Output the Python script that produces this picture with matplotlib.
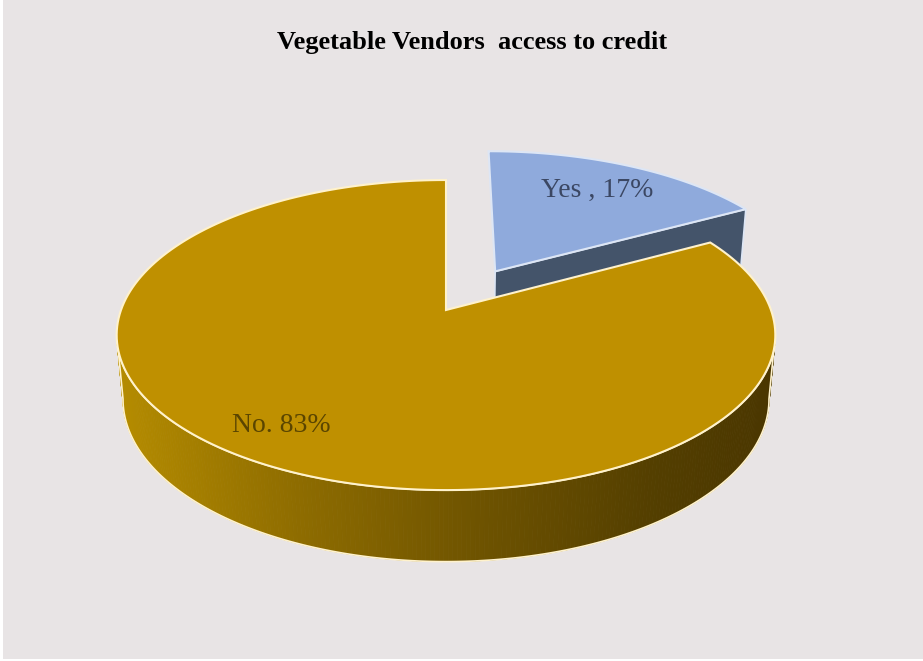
import numpy as np
import matplotlib
matplotlib.use('Agg')
import matplotlib.pyplot as plt
from matplotlib.patches import Polygon, Rectangle
from matplotlib.colors import to_rgb

# chart data
categories = ['Yes', 'No']
shares = [17, 83]
slice_labels = ['Yes , 17%', 'No. 83%']
label_pos = [(597, 190), (281, 425)]
top_colors = ['#8faadc', '#bf9000']
side_colors = ['#44546a', None]
edge_colors = ['#dde6f5', '#fff2cc']
explode = [0.31, 0.0]

# simple perspective camera for the 3d pie (pixel space)
CX, CY, R = 446, 310, 325
SIN_T = 0.4646
COS_T = np.sqrt(1 - SIN_T ** 2)
DIST = 5.48
THICK = 0.225


def project(x, z, h):
    v = h * COS_T - z * SIN_T
    d = z * COS_T + h * SIN_T
    s = DIST / (DIST - d)
    return CX + x * s * R, CY - v * s * R


def rim(ox, oz, h, angles):
    return [project(ox + np.cos(t), oz - np.sin(t), h) for t in angles]


# wall shading goes from light on the left to dark on the right
shade_x = [120, 300, 480, 650, 775]
shade_c = ['#b58c00', '#8e6c00', '#6e5300', '#543f00', '#4a3600']
shade_rgb = np.array([to_rgb(c) for c in shade_c])


def wall_color(px):
    return tuple(np.interp(px, shade_x, shade_rgb[:, i]) for i in range(3))


fig = plt.figure(figsize=(9.23, 6.61), dpi=100, facecolor='white')
ax = fig.add_axes([0, 0, 1, 1])
ax.set_xlim(0, 923)
ax.set_ylim(661, 0)
ax.axis('off')
ax.add_patch(Rectangle((3, 0), 920, 659, facecolor='#e8e4e5', edgecolor='none'))

# slice angles, clockwise from 12 o'clock
fracs = np.array(shares) / sum(shares)
bounds = 90 - 360 * np.concatenate([[0], np.cumsum(fracs)])

for i in range(len(categories)):
    a_start, a_end = np.radians(bounds[i]), np.radians(bounds[i + 1])
    mid = (a_start + a_end) / 2
    ox, oz = explode[i] * np.cos(mid), -explode[i] * np.sin(mid)
    arc = np.linspace(a_end, a_start, 200)

    if side_colors[i] is not None:
        # flat side facing the viewer along the trailing edge
        ends = [a_end]
        for t in ends:
            wall = [project(ox, oz, 0), project(ox + np.cos(t), oz - np.sin(t), 0),
                    project(ox + np.cos(t), oz - np.sin(t), -THICK), project(ox, oz, -THICK)]
            ax.add_patch(Polygon(wall, closed=True, facecolor=side_colors[i],
                                 edgecolor=edge_colors[i], lw=1.2, zorder=2 + 2 * i))
    else:
        # curved outer wall, front part only
        lo = max(a_end, np.radians(-171))
        hi = min(a_start, np.radians(-9))
        seg = np.linspace(lo, hi, 240)
        for t0, t1 in zip(seg[:-1], seg[1:]):
            quad = rim(ox, oz, 0, [t0, t1]) + rim(ox, oz, -THICK, [t1, t0])
            px = np.mean([p[0] for p in quad])
            c = wall_color(px)
            ax.add_patch(Polygon(quad, closed=True, facecolor=c, edgecolor=c,
                                 lw=0.6, zorder=2 + 2 * i))
        outline = rim(ox, oz, 0, seg) + rim(ox, oz, -THICK, seg[::-1])
        ax.add_patch(Polygon(outline, closed=True, facecolor='none',
                             edgecolor=edge_colors[i], lw=1.2, zorder=2 + 2 * i))

    top = [project(ox, oz, 0)] + rim(ox, oz, 0, arc)
    ax.add_patch(Polygon(top, closed=True, facecolor=top_colors[i],
                         edgecolor=edge_colors[i], lw=1.5, zorder=3 + 2 * i))

text_colors = ['#3b4763', '#5a4500']
for i, lab in enumerate(slice_labels):
    ax.text(label_pos[i][0], label_pos[i][1], lab, ha='center', va='center',
            fontsize=20, family='Liberation Serif', color=text_colors[i], zorder=10)

ax.text(472, 43, 'Vegetable Vendors  access to credit', ha='center', va='center',
        fontsize=19, fontweight='bold', family='Liberation Serif', color='black')

fig.savefig('out.png', dpi=100, facecolor=fig.get_facecolor())
